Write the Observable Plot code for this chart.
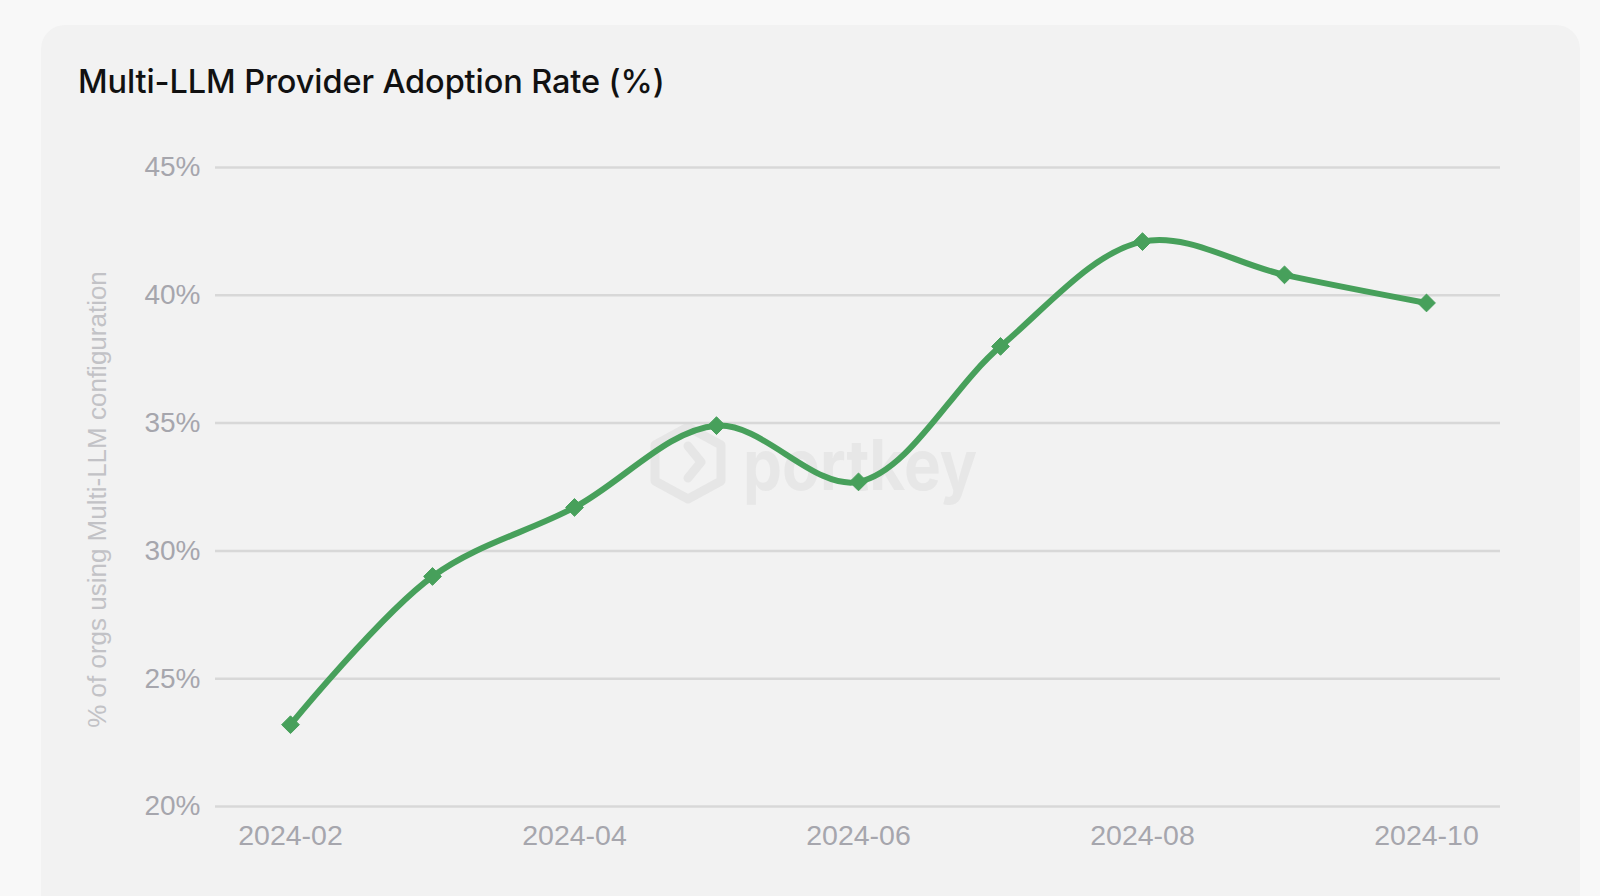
<!DOCTYPE html>
<html>
<head>
<meta charset="utf-8">
<script src="https://cdn.jsdelivr.net/npm/d3@7"></script>
<script src="https://cdn.jsdelivr.net/npm/@observablehq/plot@0.6"></script>
<style>
  html, body { margin: 0; padding: 0; background: #f8f8f8; width: 1600px; height: 896px; overflow: hidden; }
  #card { position: absolute; left: 41px; top: 25px; width: 1539px; height: 920px; background: #f2f2f2; border-radius: 24px; }
  #title { position: absolute; left: 78px; top: 62px; font-family: Inter, "Noto Sans", sans-serif; font-weight: 500; font-size: 32.5px; color: #111; letter-spacing: -0.1px; }
  #wm { position: absolute; left: 640px; top: 402px; }
  #chart { position: absolute; left: 0; top: 0; }
</style>
</head>
<body>
<div id="card"></div>
<svg id="wm" width="420" height="140" viewBox="0 0 420 140">
  <path d="M48 25 L81 43 L81 79 L48 97 L15 79 L15 43 Z" fill="none" stroke="#e6e6e6" stroke-width="9" stroke-linejoin="round"/>
  <path d="M48 44 L61 60 L48 76" fill="none" stroke="#e6e6e6" stroke-width="9" stroke-linecap="round" stroke-linejoin="round"/>
  <text x="103" y="88" font-family="Inter, 'Noto Sans', sans-serif" font-weight="700" font-size="70" textLength="234" lengthAdjust="spacingAndGlyphs" fill="#e7e7e7">portkey</text>
</svg>
<div id="title">Multi-LLM Provider Adoption Rate (%)</div>
<div id="chart"></div>
<script>
const months = ["2024-02","2024-03","2024-04","2024-05","2024-06","2024-07","2024-08","2024-09","2024-10"];
const adoption = [23.2, 29.0, 31.7, 34.9, 32.7, 38.0, 42.1, 40.8, 39.7];
const xTicks = ["2024-02","2024-04","2024-06","2024-08","2024-10"];
const yTicks = [20, 25, 30, 35, 40, 45];
const yLabel = "% of orgs using Multi-LLM configuration";

const data = months.map((m, i) => ({month: m, value: adoption[i]}));
const green = "#47a05b";

const chart = Plot.plot({
  width: 1600,
  height: 896,
  marginLeft: 215,
  marginRight: 100,
  marginTop: 167,
  marginBottom: 90,
  style: {background: "transparent", overflow: "visible"},
  x: {type: "point", domain: months, padding: 0.51},
  y: {domain: [20, 45]},
  marks: [
    Plot.gridY(yTicks, {stroke: "#d8d8d8", strokeOpacity: 1, strokeWidth: 2.5}),
    Plot.axisY(yTicks, {tickSize: 0, tickPadding: 15, tickFormat: d => d + "%", fontSize: 28, fill: "#a6a6ad", fontFamily: "Liberation Sans, Arial, sans-serif", label: null}),
    Plot.axisX(xTicks, {tickSize: 0, tickPadding: 18, fontSize: 28.5, fill: "#a6a6ad", fontFamily: "Liberation Sans, Arial, sans-serif", label: null}),
    Plot.text([yLabel], {frameAnchor: "left", textAnchor: "middle", text: d => d, rotate: -90, dx: -118, dy: 12.5, fontSize: 26, fill: "#c2c2c6", fontFamily: "Liberation Sans, Arial, sans-serif"}),
    Plot.line(data, {x: "month", y: "value", curve: "catmull-rom", stroke: green, strokeWidth: 6}),
    Plot.dot(data, {x: "month", y: "value", symbol: "diamond2", r: 8, fill: green, stroke: green, strokeWidth: 1})
  ]
});
document.getElementById("chart").appendChild(chart);
</script>
</body>
</html>
